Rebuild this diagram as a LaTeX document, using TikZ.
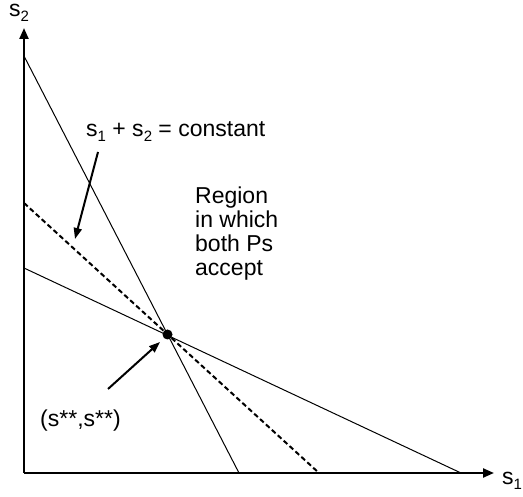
\documentclass[tikz,border=0pt]{standalone}
\usepackage{fontspec}
\setmainfont{Liberation Sans}
\usetikzlibrary{arrows.meta}
\newcommand{\mysub}[1]{\raisebox{-0.35ex}{\fontsize{15}{15}\selectfont #1}}
\tikzset{
  axis/.style={line width=2.2pt,-{Triangle[length=11pt,width=9pt]}},
  thinline/.style={line width=1pt},
  dashline/.style={line width=2pt,dash pattern=on 5pt off 3pt},
  pointer/.style={line width=2pt,-{Triangle[length=11pt,width=8pt]}},
  lbl/.style={inner sep=0pt,font=\fontsize{23}{24}\selectfont}
}
\begin{document}
\begin{tikzpicture}[x=1pt,y=-1pt]
\useasboundingbox (0,0) rectangle (523,497);
\clip (0,0) rectangle (523,497);
\coordinate (O) at (24,473);
\coordinate (Ytop) at (24,28);
\coordinate (Xend) at (494,473);
\coordinate (A1) at (24,56);
\coordinate (A2) at (239,473);
\coordinate (B1) at (24,268);
\coordinate (B2) at (461,473);
\coordinate (C1) at (24,203);
\coordinate (C2) at (319,473);
\draw[axis] (O) -- (Ytop);
\draw[axis] (O) -- (Xend);
\draw[thinline] (A1) -- (A2);
\draw[thinline] (B1) -- (B2);
\draw[dashline] (C1) -- (C2);
\node[circle,fill=black,inner sep=0pt,minimum size=10pt] (dot) at (167.5,334.5) {};
\node[lbl,anchor=base west] (ylab) at (9,17) {s\mysub{2}};
\node[lbl,anchor=base west] (xlab) at (502,485) {s\mysub{1}};
\node[lbl,anchor=base west] (const) at (86,137) {s\mysub{1} + s\mysub{2} = constant};
\node[lbl,anchor=north west,align=left] (region) at (195,187) {Region\\in which\\both Ps\\accept};
\node[lbl,anchor=base west] (sstar) at (40,427) {(s**,s**)};
\coordinate (p1s) at (98,152);
\coordinate (p1e) at (75,239);
\coordinate (p2s) at (108,389);
\coordinate (p2e) at (160,342);
\draw[pointer] (p1s) -- (p1e);
\draw[pointer] (p2s) -- (p2e);
\end{tikzpicture}
\end{document}
